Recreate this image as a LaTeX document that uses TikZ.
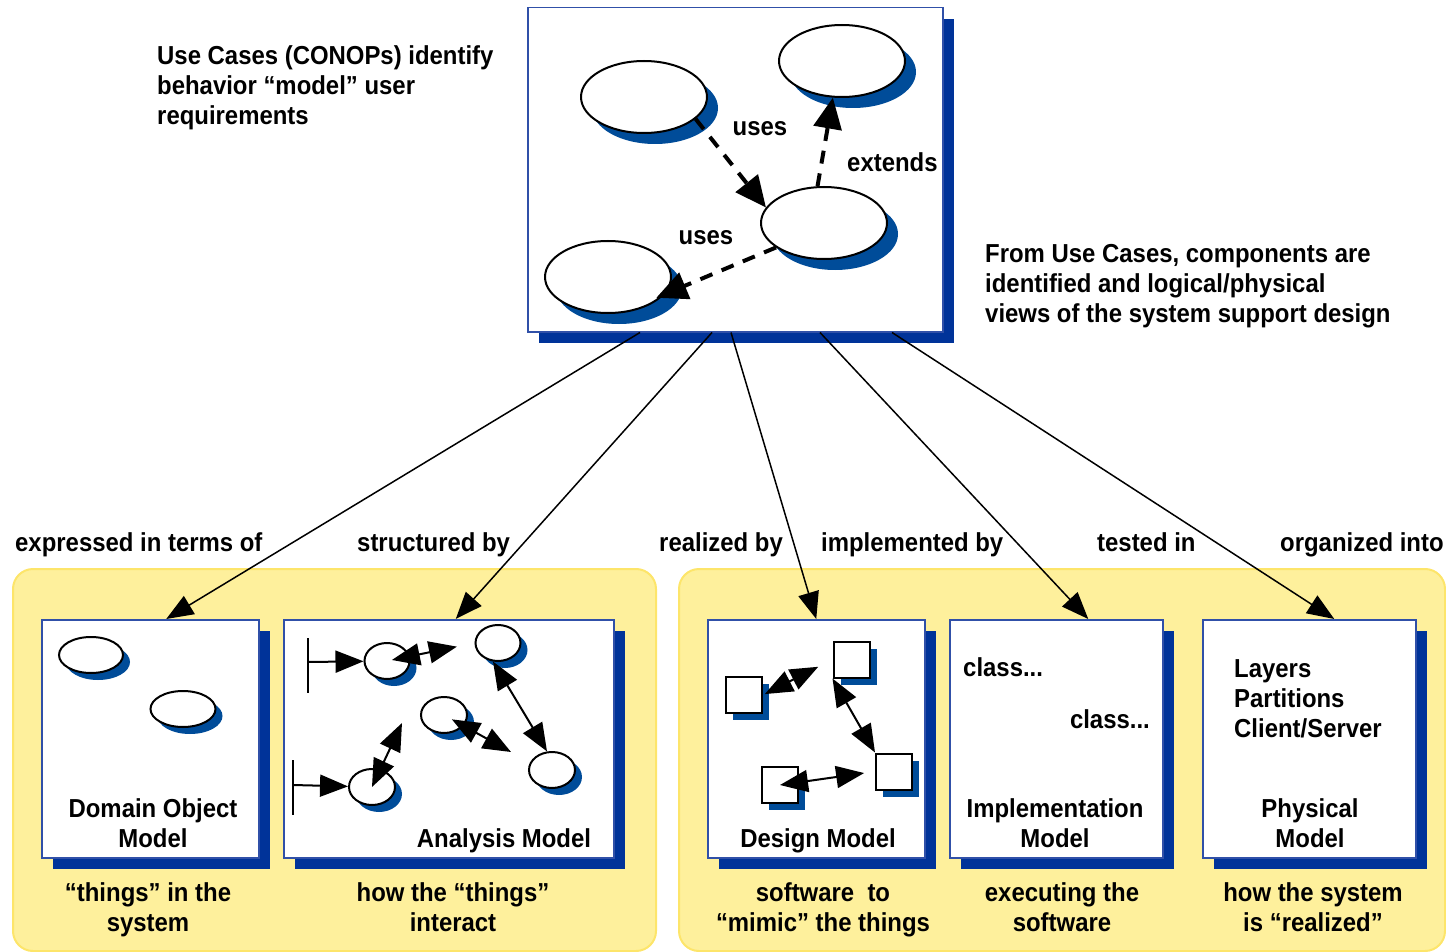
\documentclass[tikz,border=0pt]{standalone}
\usepackage{fontspec}
\setmainfont{Liberation Sans}[FakeStretch=0.92]
\usetikzlibrary{arrows.meta,shapes.geometric,shadows,calc}
\definecolor{panelfill}{HTML}{FEF09C}
\definecolor{paneldraw}{HTML}{FDE56A}
\definecolor{frameshadow}{HTML}{003399}
\definecolor{eshadow}{HTML}{004C99}
\definecolor{frameline}{HTML}{3050A8}
\begin{document}
\begin{tikzpicture}[x=1pt,y=-1pt,
  font=\bfseries\fontsize{26}{30}\selectfont,
  txt/.style={inner sep=0pt},
  panel/.style={draw=paneldraw, line width=2pt, fill=panelfill, rounded corners=20pt},
  frame/.style={draw=frameline, line width=1.5pt, fill=white, inner sep=0pt, anchor=north west,
    drop shadow={shadow xshift=11pt, shadow yshift=-11pt, fill=frameshadow, opacity=1}},
  uc/.style={ellipse, draw, line width=2pt, fill=white, minimum width=126pt, minimum height=72pt, inner sep=0pt,
    drop shadow={shadow xshift=11pt, shadow yshift=-11pt, fill=eshadow, opacity=1}},
  obj/.style={ellipse, draw, line width=2pt, fill=white, inner sep=0pt,
    drop shadow={shadow xshift=7pt, shadow yshift=-7pt, fill=eshadow, opacity=1}},
  cls/.style={rectangle, draw, line width=2pt, fill=white, minimum size=36pt, inner sep=0pt,
    drop shadow={shadow xshift=7pt, shadow yshift=-7pt, fill=eshadow, opacity=1}},
  dasharr/.style={line width=4pt, dash pattern=on 13pt off 10pt, -{Triangle[length=31pt,width=28pt]}},
  conn/.style={line width=1.5pt, -{Triangle[length=27pt,width=21pt]}},
  dbl/.style={line width=2pt, {Triangle[length=28pt,width=22pt]}-{Triangle[length=28pt,width=22pt]}},
  sarr/.style={line width=2pt, -{Triangle[length=28pt,width=22pt]}},
  bar/.style={line width=2pt}
]
\useasboundingbox (0,0) rectangle (1446,952);

% panels
\draw[panel] (13,569) rectangle (656,951);
\draw[panel] (679,569) rectangle (1445,951);

% top frame
\node[frame, minimum width=415pt, minimum height=324pt] (top) at (527,7) {};
\node[uc] (e1) at (644,97) {};
\node[uc] (e2) at (842,61) {};
\node[uc] (e3) at (824,223) {};
\node[uc] (e4) at (608,277) {};
\draw[dasharr] (e1.-23) -- (e3.165);
\draw[dasharr] (e3.100) -- (e2.-104);
\draw[dasharr, shorten >=-9pt] (e3.-153) -- (e4.-17);
\node[txt, anchor=base] (l1) at (760,136) {uses};
\node[txt, anchor=base west] (l2) at (847,172) {extends};
\node[txt, anchor=base] (l3) at (706,245) {uses};

% explanatory texts (base anchor = last line)
\node[txt, anchor=base west, align=left] (t1) at (157,125) {Use Cases (CONOPs) identify\\behavior “model” user\\requirements};
\node[txt, anchor=base west, align=left] (t2) at (985,322) {From Use Cases, components are\\identified and logical/physical\\views of the system support design};

% model frames
\node[frame, minimum width=217pt, minimum height=238pt] (b1) at (41,619) {};
\node[frame, minimum width=330pt, minimum height=238pt] (b2) at (283,619) {};
\node[frame, minimum width=217pt, minimum height=238pt] (b3) at (707,619) {};
\node[frame, minimum width=213pt, minimum height=238pt] (b4) at (949,619) {};
\node[frame, minimum width=213pt, minimum height=238pt] (b5) at (1202,619) {};

% connectors from top frame
\draw[conn] ($(top.south west)+(113,0)$) -- ($(b1.north)+(16,0)$);
\draw[conn] ($(top.south west)+(185,0)$) -- ($(b2.north)+(7,0)$);
\draw[conn] ($(top.south west)+(204,0)$) -- ($(b3.north)+(0,0)$);
\draw[conn] ($(top.south west)+(293,0)$) -- ($(b4.north)+(32,0)$);
\draw[conn] ($(top.south west)+(365,0)$) -- ($(b5.north)+(25,0)$);

% labels above panels
\node[txt, anchor=base west] (r1) at (15,551) {expressed in terms of};
\node[txt, anchor=base west] (r2) at (357,551) {structured by};
\node[txt, anchor=base west] (r3) at (659,551) {realized by};
\node[txt, anchor=base west] (r4) at (821,551) {implemented by};
\node[txt, anchor=base west] (r5) at (1097,551) {tested in};
\node[txt, anchor=base west] (r6) at (1280,551) {organized into};

% domain object model
\node[obj, minimum width=64pt, minimum height=36pt] (o1) at (91,655) {};
\node[obj, minimum width=65pt, minimum height=36pt] (o2) at (183,709) {};
\node[txt, anchor=base, align=center] (n1) at (153,847) {Domain Object\\Model};

% analysis model
\node[obj, minimum width=45pt, minimum height=36pt] (c1) at (387,661) {};
\node[obj, minimum width=45pt, minimum height=36pt] (c2) at (498,643) {};
\node[obj, minimum width=46pt, minimum height=36pt] (c3) at (444,715) {};
\node[obj, minimum width=46pt, minimum height=36pt] (c4) at (552,770) {};
\node[obj, minimum width=46pt, minimum height=36pt] (c5) at (372,787) {};
\coordinate (a1t) at (308,638);
\coordinate (a1b) at (308,693);
\coordinate (a1m) at (308,662);
\coordinate (a2t) at (293,760);
\coordinate (a2b) at (293,815);
\coordinate (a2m) at (293,785);
\coordinate (p3) at (511,752);
\coordinate (p5) at (402,723);
\draw[bar] (a1t) -- (a1b);
\draw[bar] (a2t) -- (a2b);
\draw[sarr] (a1m) -- (c1);
\draw[sarr] (a2m) -- (c5);
\draw[dbl, shorten <=5pt, shorten >=18pt] (c1.center) -- (c2.west);
\draw[dbl] (c2.-105) -- (c4.105);
\draw[dbl, shorten <=9pt] (c3.center) -- (p3);
\draw[dbl] (c5.center) -- (p5);
\node[txt, anchor=base] (n2) at (504,847) {Analysis Model};

% design model
\node[cls] (s1) at (744,695) {};
\node[cls] (s2) at (851.5,659.5) {};
\node[cls] (s3) at (894,771.5) {};
\node[cls] (s4) at (780,785) {};
\draw[dbl, shorten <=2pt, shorten >=16pt] (s1.east) -- (s2.west);
\draw[dbl] (s2.south west) -- (s3.north west);
\draw[dbl, shorten >=11pt] (s4.center) -- (s3.west);
\node[txt, anchor=base] (n3) at (818,847) {Design Model};

% implementation model
\node[txt, anchor=base west] (k1) at (963,676) {class...};
\node[txt, anchor=base east] (k2) at (1150,728) {class...};
\node[txt, anchor=base, align=center] (n4) at (1055,847) {Implementation\\Model};

% physical model
\node[txt, anchor=base west, align=left] (m1) at (1234,737) {Layers\\Partitions\\Client/Server};
\node[txt, anchor=base, align=center] (n5) at (1310,847) {Physical\\Model};

% captions
\node[txt, anchor=base, align=center] (q1) at (148,931) {“things” in the\\system};
\node[txt, anchor=base, align=center] (q2) at (453,931) {how the “things”\\interact};
\node[txt, anchor=base, align=center] (q3) at (823,931) {software\ \ to\\“mimic” the things};
\node[txt, anchor=base, align=center] (q4) at (1062,931) {executing the\\software};
\node[txt, anchor=base, align=center] (q5) at (1313,931) {how the system\\is “realized”};
\end{tikzpicture}
\end{document}
